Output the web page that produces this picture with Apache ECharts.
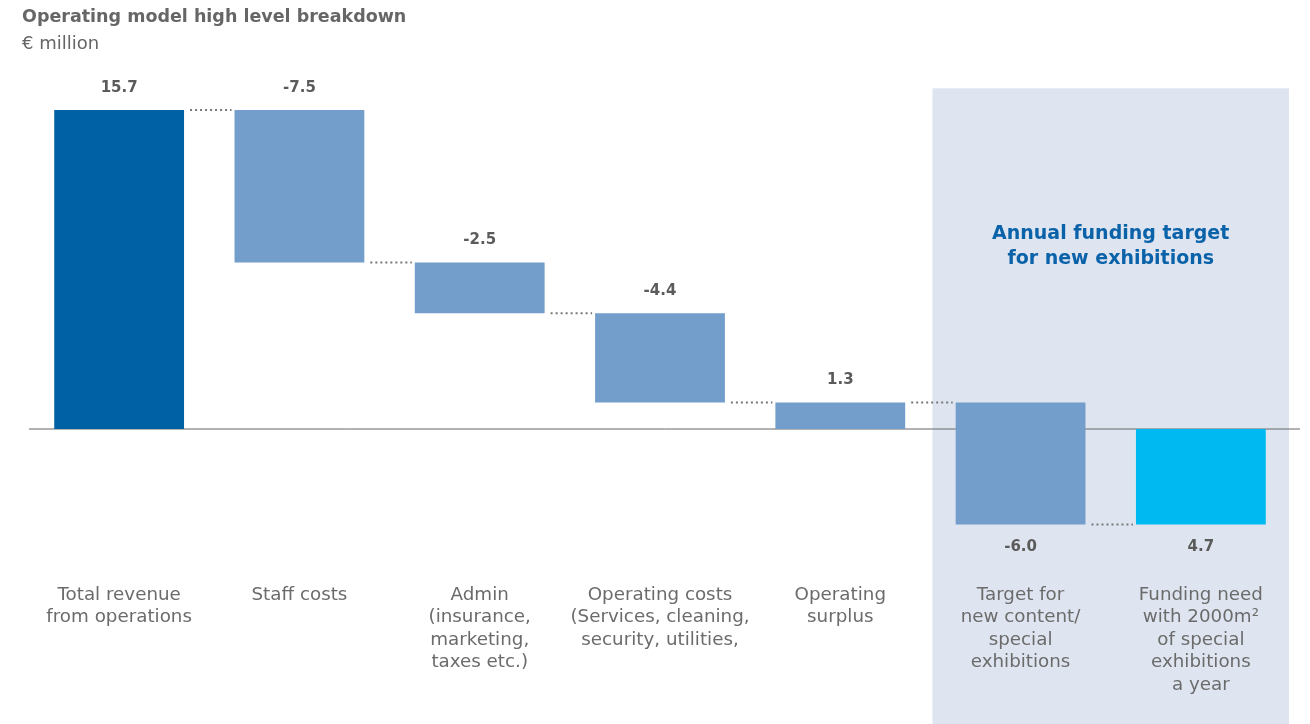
<!DOCTYPE html>
<html>
<head>
<meta charset="utf-8">
<script src="https://cdn.jsdelivr.net/npm/echarts@6/dist/echarts.min.js"></script>
<style>
  html, body { margin: 0; padding: 0; background: #ffffff; }
  #chart { width: 1310px; height: 724px; }
</style>
</head>
<body>
<div id="chart"></div>
<script>
// Waterfall: operating model high level breakdown (€ million)
const categories = [
  'Total revenue\nfrom operations',
  'Staff costs',
  'Admin\n(insurance,\nmarketing,\ntaxes etc.)',
  'Operating costs\n(Services, cleaning,\nsecurity, utilities,',
  'Operating\nsurplus',
  'Target for\nnew content/\nspecial\nexhibitions',
  'Funding need\nwith 2000m²\nof special\nexhibitions\na year'
];
const values = [15.7, -7.5, -2.5, -4.4, 1.3, -6.0, 4.7];
const valueLabels = ['15.7', '-7.5', '-2.5', '-4.4', '1.3', '-6.0', '4.7'];
// total: starts at zero; step: change from running total;
// subtotal: running total from zero; shortfall: amount below zero to cover
const barKinds = ['total', 'step', 'step', 'step', 'subtotal', 'step', 'shortfall'];
const labelSides = ['top', 'top', 'top', 'top', 'top', 'bottom', 'bottom'];
const highlightFrom = 5;
const highlightTo = 6;
const highlightText = 'Annual funding target\nfor new exhibitions';

const barColors = ['#0061a5', '#739dca', '#739dca', '#739dca', '#739dca', '#739dca', '#00b9f1'];
const FONT = '"DejaVu Sans", "Open Sans", sans-serif';

// Build [index, start, end] spans from the running total
const spans = [];
let running = 0;
values.forEach(function (v, i) {
  let start, end;
  if (barKinds[i] === 'total') { start = 0; end = v; running = v; }
  else if (barKinds[i] === 'step') { start = running; end = running + v; running = end; }
  else if (barKinds[i] === 'subtotal') { start = 0; end = v; running = v; }
  else { start = 0; end = -v; running = end; }
  spans.push([i, start, end]);
});
// Dotted connectors sit at the level where each bar finishes
const connectors = spans.slice(0, -1).map(function (s) { return [s[0], s[2]]; });

const chart = echarts.init(document.getElementById('chart'));
const BAR_RATIO = 0.72;

chart.setOption({
  animation: false,
  title: {
    text: 'Operating model high level breakdown',
    subtext: '€ million',
    left: 22,
    top: 7,
    padding: 0,
    itemGap: 6,
    textStyle: { fontFamily: FONT, fontSize: 17.5, fontWeight: 'bold', color: '#666666', lineHeight: 21 },
    subtextStyle: { fontFamily: FONT, fontSize: 18, color: '#666666', lineHeight: 21 }
  },
  grid: { left: 29, right: 19, top: 104, bottom: 152.8 },
  xAxis: {
    type: 'category',
    z: 10,
    data: categories,
    axisLine: { show: false },
    axisTick: { show: false },
    axisLabel: {
      interval: 0,
      margin: 12.5,
      fontFamily: FONT,
      fontSize: 18.3,
      lineHeight: 22.5,
      color: '#6b6b6b',
      align: 'center',
      verticalAlign: 'top'
    }
  },
  yAxis: { type: 'value', min: -7, max: 16, show: false, splitLine: { show: false } },
  series: [
    {
      // shaded band behind the funding columns, with its heading
      type: 'custom',
      z: 1,
      clip: false,
      silent: true,
      data: [[highlightFrom, highlightTo]],
      renderItem: function (params, api) {
        const band = api.size([1, 0])[0];
        const a = api.coord([api.value(0), 0]);
        const b = api.coord([api.value(1), 0]);
        const top = api.coord([api.value(0), 16.78])[1];
        const x0 = a[0] - band / 2 + 2;
        const x1 = b[0] + band / 2 - 2;
        const head = api.coord([api.value(0), 8.98])[1];
        return {
          type: 'group',
          children: [
            { type: 'rect', shape: { x: x0, y: top, width: x1 - x0, height: api.getHeight() - top }, style: { fill: '#dfe5f0' } },
            { type: 'text', x: (x0 + x1) / 2, y: head,
              style: { text: highlightText, fill: '#0a62a9', font: 'bold 19px ' + FONT, align: 'center', verticalAlign: 'middle', lineHeight: 25 } }
          ]
        };
      }
    },
    {
      // zero baseline
      type: 'custom',
      z: 2,
      clip: false,
      silent: true,
      data: [[0]],
      renderItem: function (params, api) {
        const y = api.coord([0, 0])[1];
        return { type: 'line', shape: { x1: 29, y1: y, x2: api.getWidth() - 10, y2: y }, style: { stroke: '#666666', lineWidth: 1 } };
      }
    },
    {
      // dotted connectors between neighbouring bars
      type: 'custom',
      z: 3,
      clip: false,
      silent: true,
      data: connectors,
      renderItem: function (params, api) {
        const band = api.size([1, 0])[0];
        const w = band * BAR_RATIO;
        const i = api.value(0);
        const p = api.coord([i, api.value(1)]);
        const q = api.coord([i + 1, api.value(1)]);
        return {
          type: 'line',
          shape: { x1: p[0] + w / 2 + 6, y1: p[1], x2: q[0] - w / 2 - 3, y2: p[1] },
          style: { stroke: '#777777', lineWidth: 2, lineDash: [2, 3] }
        };
      }
    },
    {
      // waterfall bars with their value labels
      type: 'custom',
      z: 4,
      clip: false,
      data: spans,
      renderItem: function (params, api) {
        const band = api.size([1, 0])[0];
        const w = band * BAR_RATIO;
        const i = api.value(0);
        const p1 = api.coord([i, api.value(1)]);
        const p2 = api.coord([i, api.value(2)]);
        const top = Math.min(p1[1], p2[1]);
        const h = Math.abs(p1[1] - p2[1]);
        const ly = labelSides[i] === 'top' ? top - 22 : top + h + 23;
        return {
          type: 'group',
          children: [
            { type: 'rect', shape: { x: p1[0] - w / 2, y: top, width: w, height: h }, style: { fill: barColors[i] } },
            { type: 'text', x: p1[0], y: ly,
              style: { text: valueLabels[i], fill: '#5b5b5b', font: 'bold 15px ' + FONT, align: 'center', verticalAlign: 'middle' } }
          ]
        };
      }
    }
  ]
});
</script>
</body>
</html>
